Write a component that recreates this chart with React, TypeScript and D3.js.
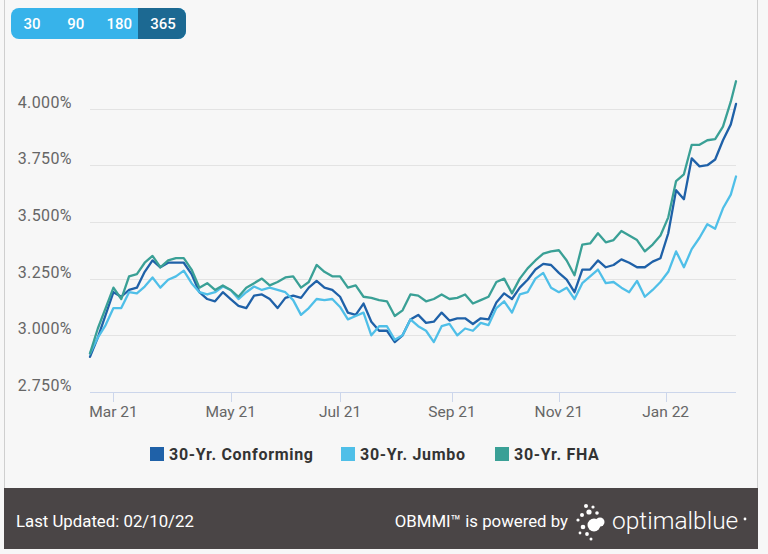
import React, { useEffect, useRef } from 'react'
import * as d3 from 'd3'

// business-day window shown by the "365" view
const START = new Date(2021, 1, 16)
const END = new Date(2022, 1, 10)
const HOLIDAYS = [
  '2021-05-31', '2021-07-05', '2021-09-06', '2021-10-11', '2021-11-11',
  '2021-11-25', '2021-12-24', '2021-12-31', '2022-01-17',
]
const SAMPLE_STEP = 3 // one value every 3 business days

const RANGE_BUTTONS = ['30', '90', '180', '365']
const Y_TICKS = [2.75, 3.0, 3.25, 3.5, 3.75, 4.0]

const conforming = [
  2.905, 2.99, 3.09, 3.19, 3.17, 3.2, 3.21, 3.28, 3.33, 3.3, 3.32, 3.32, 3.32, 3.27,
  3.19, 3.16, 3.15, 3.19, 3.16, 3.13, 3.12, 3.175, 3.18, 3.16, 3.12, 3.165, 3.175, 3.165,
  3.21, 3.24, 3.21, 3.2, 3.17, 3.1, 3.09, 3.14, 3.06, 3.02, 3.02, 2.97, 3.0, 3.07,
  3.09, 3.055, 3.06, 3.1, 3.065, 3.075, 3.075, 3.05, 3.075, 3.07, 3.145, 3.185, 3.16, 3.21,
  3.245, 3.29, 3.315, 3.31, 3.275, 3.245, 3.19, 3.29, 3.29, 3.33, 3.3, 3.31, 3.335, 3.32,
  3.3, 3.3, 3.325, 3.34, 3.45, 3.64, 3.6, 3.78, 3.745, 3.75, 3.775, 3.86, 3.93, 4.02,
]

const jumbo = [
  2.92, 2.99, 3.045, 3.12, 3.12, 3.19, 3.185, 3.215, 3.255, 3.21, 3.245, 3.26, 3.285, 3.23,
  3.19, 3.18, 3.19, 3.215, 3.2, 3.16, 3.19, 3.215, 3.2, 3.21, 3.2, 3.19, 3.155, 3.09,
  3.12, 3.16, 3.155, 3.16, 3.125, 3.07, 3.085, 3.1, 3.0, 3.04, 3.04, 2.98, 3.0, 3.07,
  3.04, 3.02, 2.97, 3.04, 3.05, 3.0, 3.03, 3.02, 3.055, 3.045, 3.12, 3.15, 3.1, 3.18,
  3.19, 3.25, 3.275, 3.21, 3.19, 3.21, 3.16, 3.23, 3.26, 3.29, 3.23, 3.235, 3.21, 3.19,
  3.24, 3.17, 3.2, 3.235, 3.28, 3.37, 3.3, 3.38, 3.43, 3.49, 3.47, 3.56, 3.62, 3.7,
]

const fha = [
  2.92, 3.03, 3.12, 3.21, 3.16, 3.26, 3.27, 3.32, 3.35, 3.3, 3.33, 3.34, 3.34, 3.29,
  3.21, 3.23, 3.2, 3.22, 3.2, 3.17, 3.21, 3.23, 3.25, 3.22, 3.235, 3.255, 3.26, 3.21,
  3.235, 3.31, 3.28, 3.26, 3.26, 3.21, 3.22, 3.17, 3.165, 3.155, 3.15, 3.085, 3.11, 3.18,
  3.175, 3.15, 3.16, 3.18, 3.16, 3.165, 3.18, 3.14, 3.155, 3.17, 3.235, 3.25, 3.185, 3.25,
  3.295, 3.33, 3.36, 3.37, 3.375, 3.33, 3.265, 3.4, 3.405, 3.45, 3.41, 3.42, 3.46, 3.44,
  3.42, 3.37, 3.4, 3.44, 3.52, 3.68, 3.71, 3.84, 3.84, 3.86, 3.865, 3.92, 4.03, 4.12,
]

const SERIES = [
  { name: '30-Yr. Conforming', values: conforming, color: '#1f61a8' },
  { name: '30-Yr. Jumbo', values: jumbo, color: '#4fbfe8' },
  { name: '30-Yr. FHA', values: fha, color: '#3aa096' },
]

const FONT = 'Roboto, "Noto Sans", sans-serif'

export default function App() {
  const svgRef = useRef<SVGSVGElement>(null)
  const width = 768
  const height = 554

  useEffect(() => {
    if (!svgRef.current) return
    const svg = d3.select(svgRef.current)
    svg.selectAll('*').remove()

    const holidaySet = new Set(HOLIDAYS)
    const fmtKey = d3.timeFormat('%Y-%m-%d')
    const days = d3.timeDay
      .range(START, d3.timeDay.offset(END, 1))
      .filter(d => d.getDay() !== 0 && d.getDay() !== 6 && !holidaySet.has(fmtKey(d)))
    const last = days.length - 1

    const plot = { left: 90, right: 736, bottom: 392 }

    const x = d3.scaleLinear().domain([0, last]).range([plot.left, plot.right])
    const y = d3.scaleLinear().domain([2.75, 4.0]).range([plot.bottom, 108.5])

    // background + frame
    svg.append('rect').attr('width', width).attr('height', height).attr('fill', '#f7f7f7')
    svg.append('line')
      .attr('x1', 4.5).attr('x2', 4.5).attr('y1', 0).attr('y2', 488)
      .attr('stroke', '#cfcfcf')
    svg.append('line')
      .attr('x1', 757.5).attr('x2', 757.5).attr('y1', 0).attr('y2', 488)
      .attr('stroke', '#cfcfcf')

    // range buttons
    const btn = svg.append('g')
    svg.append('defs').append('clipPath').attr('id', 'btn-clip')
      .append('rect').attr('x', 11).attr('y', 8).attr('width', 175).attr('height', 31).attr('rx', 8)
    btn.append('rect')
      .attr('x', 11).attr('y', 8).attr('width', 175).attr('height', 31).attr('rx', 8)
      .attr('fill', '#37b3ea')
    btn.append('rect')
      .attr('x', 138).attr('y', 8).attr('width', 48).attr('height', 31)
      .attr('fill', '#1c6992')
      .attr('clip-path', 'url(#btn-clip)')
    const btnX = d3.scalePoint<string>().domain(RANGE_BUTTONS).range([32, 163])
    btn.selectAll('text')
      .data(RANGE_BUTTONS)
      .enter()
      .append('text')
      .attr('x', d => btnX(d)!)
      .attr('y', 28.5)
      .attr('text-anchor', 'middle')
      .attr('fill', '#ffffff')
      .style('font-family', FONT)
      .style('font-size', '15px')
      .style('font-weight', '500')
      .text(d => d)

    // grid + y labels
    svg.append('g')
      .selectAll('line')
      .data(Y_TICKS.slice(1))
      .enter()
      .append('line')
      .attr('x1', plot.left).attr('x2', plot.right)
      .attr('y1', d => Math.round(y(d)) + 0.5).attr('y2', d => Math.round(y(d)) + 0.5)
      .attr('stroke', '#e3e3e3')

    svg.append('g')
      .selectAll('text')
      .data(Y_TICKS)
      .enter()
      .append('text')
      .attr('x', 72)
      .attr('y', d => y(d) - 1)
      .attr('text-anchor', 'end')
      .attr('fill', '#666666')
      .style('font-family', FONT)
      .style('font-size', '16px')
      .style('letter-spacing', '0.4px')
      .text(d => d3.format('.3f')(d) + '%')

    // x axis (business-day index, ticks at first business day of every 2nd month)
    const monthStarts = d3.timeMonth.every(2)!.range(new Date(2021, 2, 1), new Date(2022, 1, 1))
    const tickIdx = monthStarts.map(m => ({
      label: d3.timeFormat('%b %y')(m),
      i: days.findIndex(d => d >= m),
    }))

    svg.append('line')
      .attr('x1', plot.left).attr('x2', plot.right)
      .attr('y1', plot.bottom + 0.5).attr('y2', plot.bottom + 0.5)
      .attr('stroke', '#ccd6eb')

    const xt = svg.append('g')
    xt.selectAll('line')
      .data(tickIdx)
      .enter()
      .append('line')
      .attr('x1', d => Math.round(x(d.i)) + 0.5).attr('x2', d => Math.round(x(d.i)) + 0.5)
      .attr('y1', plot.bottom).attr('y2', plot.bottom + 10)
      .attr('stroke', '#ccd6eb')
    xt.selectAll('text')
      .data(tickIdx)
      .enter()
      .append('text')
      .attr('x', d => x(d.i))
      .attr('y', 417)
      .attr('text-anchor', 'middle')
      .attr('fill', '#666666')
      .style('font-family', FONT)
      .style('font-size', '15.5px')
      .text(d => d.label)

    // series lines
    const line = d3.line<number>()
      .x((_, k) => x(Math.min(k * SAMPLE_STEP, last)))
      .y(d => y(d))

    SERIES.forEach(s => {
      svg.append('path')
        .datum(s.values)
        .attr('d', line)
        .attr('fill', 'none')
        .attr('stroke', s.color)
        .attr('stroke-width', 2.3)
        .attr('stroke-linejoin', 'round')
        .attr('stroke-linecap', 'round')
    })

    // legend
    const legendX = [150, 341, 495]
    const legend = svg.append('g')
    SERIES.forEach((s, i) => {
      const item = legend.append('g').attr('transform', `translate(${legendX[i]}, 454)`)
      item.append('rect')
        .attr('x', 0).attr('y', -7).attr('width', 14).attr('height', 14)
        .attr('fill', s.color)
      item.append('text')
        .attr('x', 19).attr('y', 0).attr('dy', '0.36em')
        .attr('fill', '#333333')
        .style('font-family', FONT)
        .style('font-size', '16px')
        .style('font-weight', '700')
        .style('letter-spacing', '0.7px')
        .text(s.name)
    })

    // footer
    const footer = svg.append('g')
    footer.append('rect')
      .attr('x', 4).attr('y', 488).attr('width', 754).attr('height', 61)
      .attr('fill', '#4a4546')
    footer.append('text')
      .attr('x', 16).attr('y', 527)
      .attr('fill', '#ffffff')
      .style('font-family', FONT)
      .style('font-size', '16.8px')
      .text('Last Updated: 02/10/22')
    footer.append('text')
      .attr('x', 568).attr('y', 527)
      .attr('text-anchor', 'end')
      .attr('fill', '#ffffff')
      .style('font-family', FONT)
      .style('font-size', '16.8px')
      .text('OBMMI™ is powered by')

    // optimal blue mark: a burst of dots
    const dots: [number, number, number][] = [
      [594, 525, 6.5], [600, 522, 4.5], [589, 512, 2.6], [586, 506, 2], [593, 507, 1.6],
      [582, 515, 2], [578, 520, 1.6], [583, 527, 2.3], [587, 534, 1.9], [580, 533, 1.4],
      [591, 539, 1.5], [597, 513, 1.8],
    ]
    footer.selectAll('circle.logo')
      .data(dots)
      .enter()
      .append('circle')
      .attr('class', 'logo')
      .attr('cx', d => d[0]).attr('cy', d => d[1]).attr('r', d => d[2])
      .attr('fill', '#ffffff')
    footer.append('text')
      .attr('x', 612).attr('y', 529)
      .attr('fill', '#ffffff')
      .style('font-family', FONT)
      .style('font-size', '24.5px')
      .style('font-weight', '300')
      .text('optimalblue')
    footer.append('circle')
      .attr('cx', 745).attr('cy', 519).attr('r', 1.4)
      .attr('fill', '#ffffff')
  }, [])

  return (
    <div style={{ position: 'absolute', left: 0, top: 0 }}>
      <svg ref={svgRef} width={width} height={height} style={{ display: 'block' }} />
    </div>
  )
}
